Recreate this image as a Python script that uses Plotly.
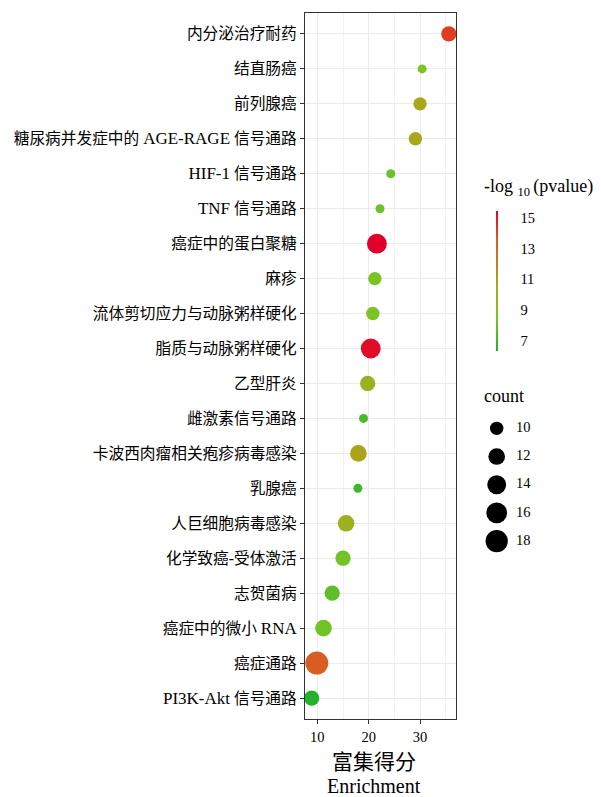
import re
import numpy as np
import plotly.graph_objects as go

# KEGG pathway enrichment (top to bottom)
pathways = [
    "内分泌治疗耐药", "结直肠癌", "前列腺癌", "糖尿病并发症中的 AGE-RAGE 信号通路",
    "HIF-1 信号通路", "TNF 信号通路", "癌症中的蛋白聚糖", "麻疹",
    "流体剪切应力与动脉粥样硬化", "脂质与动脉粥样硬化", "乙型肝炎", "雌激素信号通路",
    "卡波西肉瘤相关疱疹病毒感染", "乳腺癌", "人巨细胞病毒感染", "化学致癌-受体激活",
    "志贺菌病", "癌症中的微小 RNA", "癌症通路", "PI3K-Akt 信号通路",
]
enrichment = [35.6, 30.4, 30.0, 29.1, 24.3, 22.2, 21.6, 21.2, 20.8, 20.4,
              19.8, 19.0, 18.0, 17.9, 15.6, 15.0, 12.9, 11.2, 9.9, 8.9]
neglog10_p = [14.2, 8.7, 10.5, 10.5, 8.2, 8.2, 15.45, 8.7, 8.7, 15.2,
              9.9, 7.3, 10.7, 7.0, 9.9, 8.4, 7.8, 8.4, 13.5, 6.37]
counts = [11, 9, 10, 10, 9, 9, 15, 10, 10, 15,
          11, 9, 12, 9, 12, 11, 11, 12, 19, 11]

legend_counts = [10, 12, 14, 16, 18]
x_ticks = [10, 20, 30]
cbar_ticks = [7, 9, 11, 13, 15]

FONT = "Liberation Serif, 'Noto Sans CJK SC', serif"
W, H = 601, 797
ML, MR, MT, MB = 305, 0, 13, 78
PW, PH = W - ML - MR, H - MT - MB

cmin_c, cmax_c = min(counts), max(counts)


def dot_px(c):
    c = np.asarray(c, dtype=float)
    return 9 + 14 * np.sqrt((c - cmin_c) / (cmax_c - cmin_c))


def px_x(px):
    return (px - ML) / PW


def px_y(py):
    return (H - MB - py) / PH


def latin_larger(label):
    # Latin runs in the serif face read a little larger next to the CJK glyphs
    return re.sub(r"([A-Za-z0-9][A-Za-z0-9\-]*)",
                  r"<span style='font-size:17px'>\1</span>", label)


colorscale = [
    [0.00, "#22b22e"], [0.20, "#6cc22a"], [0.26, "#7cc424"], [0.39, "#9cb020"],
    [0.46, "#a8a81a"], [0.79, "#d85c20"], [0.86, "#e03c20"], [1.00, "#e0002a"],
]

fig = go.Figure()

fig.add_trace(go.Scatter(
    x=enrichment, y=pathways, mode="markers",
    marker=dict(
        size=dot_px(counts), color=neglog10_p, colorscale=colorscale,
        line=dict(width=0), opacity=1,
        colorbar=dict(
            thickness=2, outlinewidth=0, len=140, lenmode="pixels",
            x=px_x(496), xanchor="left", xpad=0,
            y=px_y(280.7), yanchor="middle", ypad=0,
            tickvals=cbar_ticks, ticks="outside", ticklen=20,
            tickcolor="rgba(0,0,0,0)",
            tickfont=dict(family=FONT, size=14.5, color="#000000"),
        ),
    ),
    showlegend=False, hoverinfo="x+y",
))

# size legend drawn on its own small axes
fig.add_trace(go.Scatter(
    x=[26.7] * len(legend_counts), y=legend_counts, mode="markers",
    marker=dict(size=dot_px(legend_counts), color="#000000", opacity=1,
                line=dict(width=0)),
    xaxis="x2", yaxis="y2", showlegend=False, hoverinfo="skip",
))
fig.add_trace(go.Scatter(
    x=[46] * len(legend_counts), y=legend_counts, mode="text",
    text=[str(c) for c in legend_counts], textposition="middle right",
    textfont=dict(family=FONT, size=14.5, color="#000000"),
    xaxis="x2", yaxis="y2", showlegend=False, hoverinfo="skip",
))

n = len(pathways)
fig.update_layout(
    width=W, height=H,
    margin=dict(l=ML, r=MR, t=MT, b=MB, pad=0),
    paper_bgcolor="white", plot_bgcolor="white",
    font=dict(family=FONT, color="#000000"),
    xaxis=dict(
        domain=[0, (456 - ML) / PW], range=[7.6, 37.0],
        tickvals=x_ticks, ticks="outside", ticklen=4, tickwidth=1, tickcolor="#333333",
        tickfont=dict(family=FONT, size=14.5, color="#000000"),
        showgrid=True, gridcolor="#ebebeb", gridwidth=1,
        minor=dict(dtick=5, tick0=0, showgrid=True, gridcolor="#f2f2f2", gridwidth=1, ticks=""),
        showline=True, linecolor="#333333", linewidth=1.3, mirror=True,
        zeroline=False,
    ),
    yaxis=dict(
        type="category", categoryorder="array", categoryarray=pathways,
        tickvals=pathways, ticktext=[latin_larger(p) for p in pathways],
        range=[n - 0.4, -0.6],
        ticks="outside", ticklen=4, tickwidth=1, tickcolor="#333333",
        tickfont=dict(family=FONT, size=15.7, color="#000000"),
        showgrid=True, gridcolor="#ebebeb", gridwidth=1,
        showline=True, linecolor="#333333", linewidth=1.3, mirror=True,
        zeroline=False,
    ),
    xaxis2=dict(domain=[px_x(470), 1.0], range=[0, 131], visible=False, anchor="y2"),
    yaxis2=dict(domain=[px_y(560), px_y(380)], range=[19.34, 6.57], visible=False, anchor="x2"),
    annotations=[
        dict(text="富集得分", x=px_x(374), y=px_y(762), xref="paper", yref="paper",
             xanchor="center", yanchor="middle", showarrow=False,
             font=dict(family=FONT, size=21, color="#000000")),
        dict(text="Enrichment", x=px_x(374), y=px_y(786), xref="paper", yref="paper",
             xanchor="center", yanchor="middle", showarrow=False,
             font=dict(family=FONT, size=20, color="#000000")),
        dict(text="-log <sub>10 </sub>(pvalue)", x=px_x(482), y=px_y(187), xref="paper", yref="paper",
             xanchor="left", yanchor="middle", showarrow=False,
             font=dict(family=FONT, size=18, color="#000000")),
        dict(text="count", x=px_x(482), y=px_y(396), xref="paper", yref="paper",
             xanchor="left", yanchor="middle", showarrow=False,
             font=dict(family=FONT, size=18, color="#000000")),
    ],
)

fig.write_html("out.html")
